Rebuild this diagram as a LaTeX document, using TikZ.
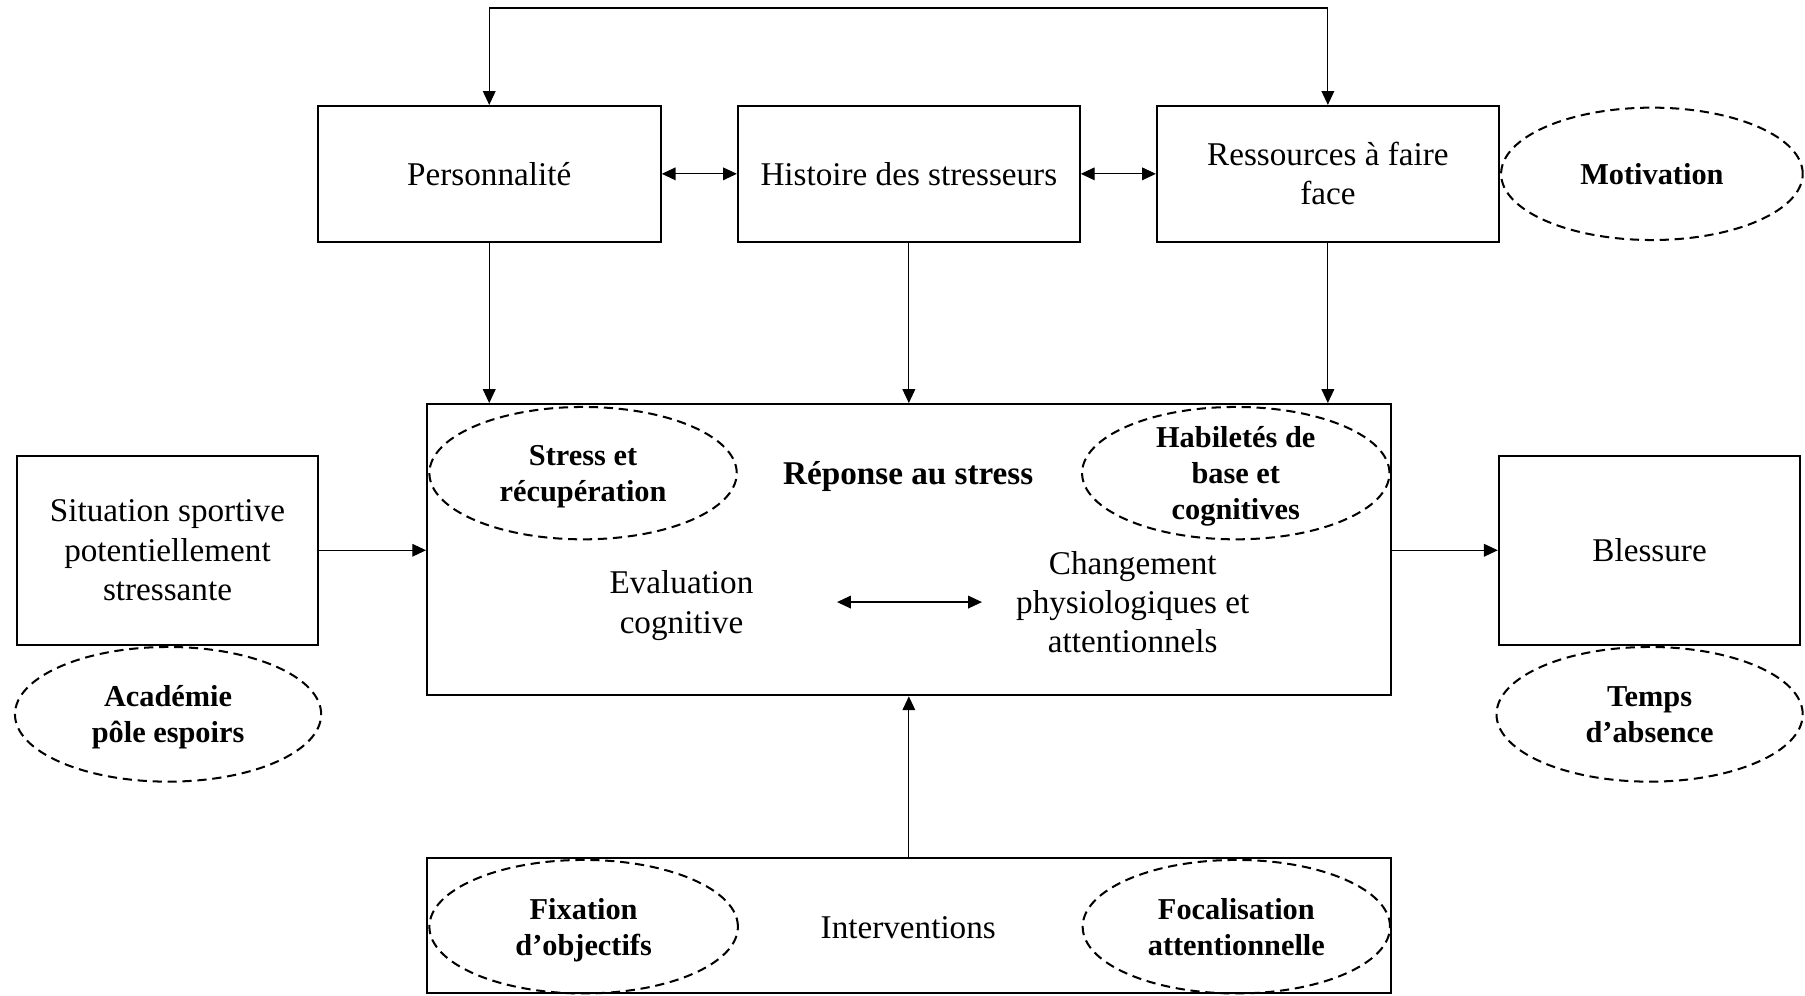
\documentclass[tikz,border=0pt]{standalone}
\usepackage{fontspec}
\setmainfont{Liberation Serif}
\usetikzlibrary{shapes.geometric,arrows.meta}
\newcommand{\plat}[1]{\raisebox{0pt}[\height][0pt]{#1}}
\begin{document}
\begin{tikzpicture}[>={Triangle[length=1.2mm,width=1.1mm]},
	font=\fontsize{8.2}{9.7}\selectfont,
	box/.style={draw,line width=0.5pt,align=center,inner sep=0pt},
	oval/.style={draw,ellipse,dashed,dash pattern=on 0.8mm off 0.5mm,line width=0.5pt,inner sep=-2mm,align=center,font=\fontsize{7.5}{8.9}\selectfont\bfseries},
	link/.style={line width=0.3pt}]
	\useasboundingbox (0,0) rectangle (15.68,-8.65);
		\node[box,minimum width=2.98cm,minimum height=1.18cm] (pers) at (4.25,-1.51) {Personnalité};
		\node[box,minimum width=2.97cm,minimum height=1.18cm] (hist) at (7.895,-1.51) {Histoire des stresseurs};
		\node[box,minimum width=2.97cm,minimum height=1.18cm] (res) at (11.535,-1.51) {Ressources à faire\\face};
		\node[oval,minimum width=2.62cm,minimum height=1.15cm] (motiv) at (14.35,-1.51) {Motivation};
		\node[box,minimum width=8.37cm,minimum height=2.53cm] (reponse) at (7.895,-4.775) {};
		\node[font=\fontsize{8.2}{9.7}\selectfont\bfseries] (titre) at (7.89,-4.14) {Réponse au stress};
		\node[oval,minimum width=2.67cm,minimum height=1.15cm] (stress) at (5.065,-4.11) {Stress et\\\plat{récupération}};
		\node[oval,minimum width=2.67cm,minimum height=1.15cm] (habil) at (10.735,-4.11) {Habiletés de\\base et\\\plat{cognitives}};
		\node[align=center,inner sep=0pt] (eval) at (5.92,-5.26) {Evaluation\\cognitive};
		\node[align=center,inner sep=0pt] (chang) at (9.84,-5.23) {Changement\\physiologiques et\\attentionnels};
		\node[box,minimum width=2.61cm,minimum height=1.64cm] (situ) at (1.455,-4.78) {Situation sportive\\potentiellement\\stressante};
		\node[oval,minimum width=2.66cm,minimum height=1.17cm] (acad) at (1.46,-6.205) {Académie\\\plat{pôle espoirs}};
		\node[box,minimum width=2.62cm,minimum height=1.64cm] (bless) at (14.33,-4.78) {Blessure};
		\node[oval,minimum width=2.66cm,minimum height=1.17cm] (temps) at (14.33,-6.205) {Temps\\d’absence};
		\node[box,minimum width=8.37cm,minimum height=1.18cm] (interv) at (7.895,-8.04) {};
		\node (intertxt) at (7.89,-8.06) {Interventions};
		\node[oval,minimum width=2.68cm,minimum height=1.16cm] (fix) at (5.07,-8.05) {Fixation\\\plat{d’objectifs}};
		\node[oval,minimum width=2.67cm,minimum height=1.16cm] (foca) at (10.74,-8.05) {Focalisation\\attentionnelle};
		\coordinate (haut) at (7.9,-0.07);
	\draw[link,<->] (pers.north) |- (haut) -| (res.north);
	\draw[link,<->] (pers) -- (hist);
	\draw[link,<->] (hist) -- (res);
	\draw[link,->] (pers) -- (pers |- reponse.north);
	\draw[link,->] (hist) -- (hist |- reponse.north);
	\draw[link,->] (res) -- (res |- reponse.north);
	\draw[link,->] (situ.east) -- (reponse.west |- situ.east);
	\draw[link,->] (reponse.east |- bless.west) -- (bless.west);
	\draw[link,->] (interv) -- (reponse);
	\draw[link,<->,shorten <=7.2mm,shorten >=2.9mm] (chang.west -| eval.east) -- (chang.west);
\end{tikzpicture}
\end{document}
